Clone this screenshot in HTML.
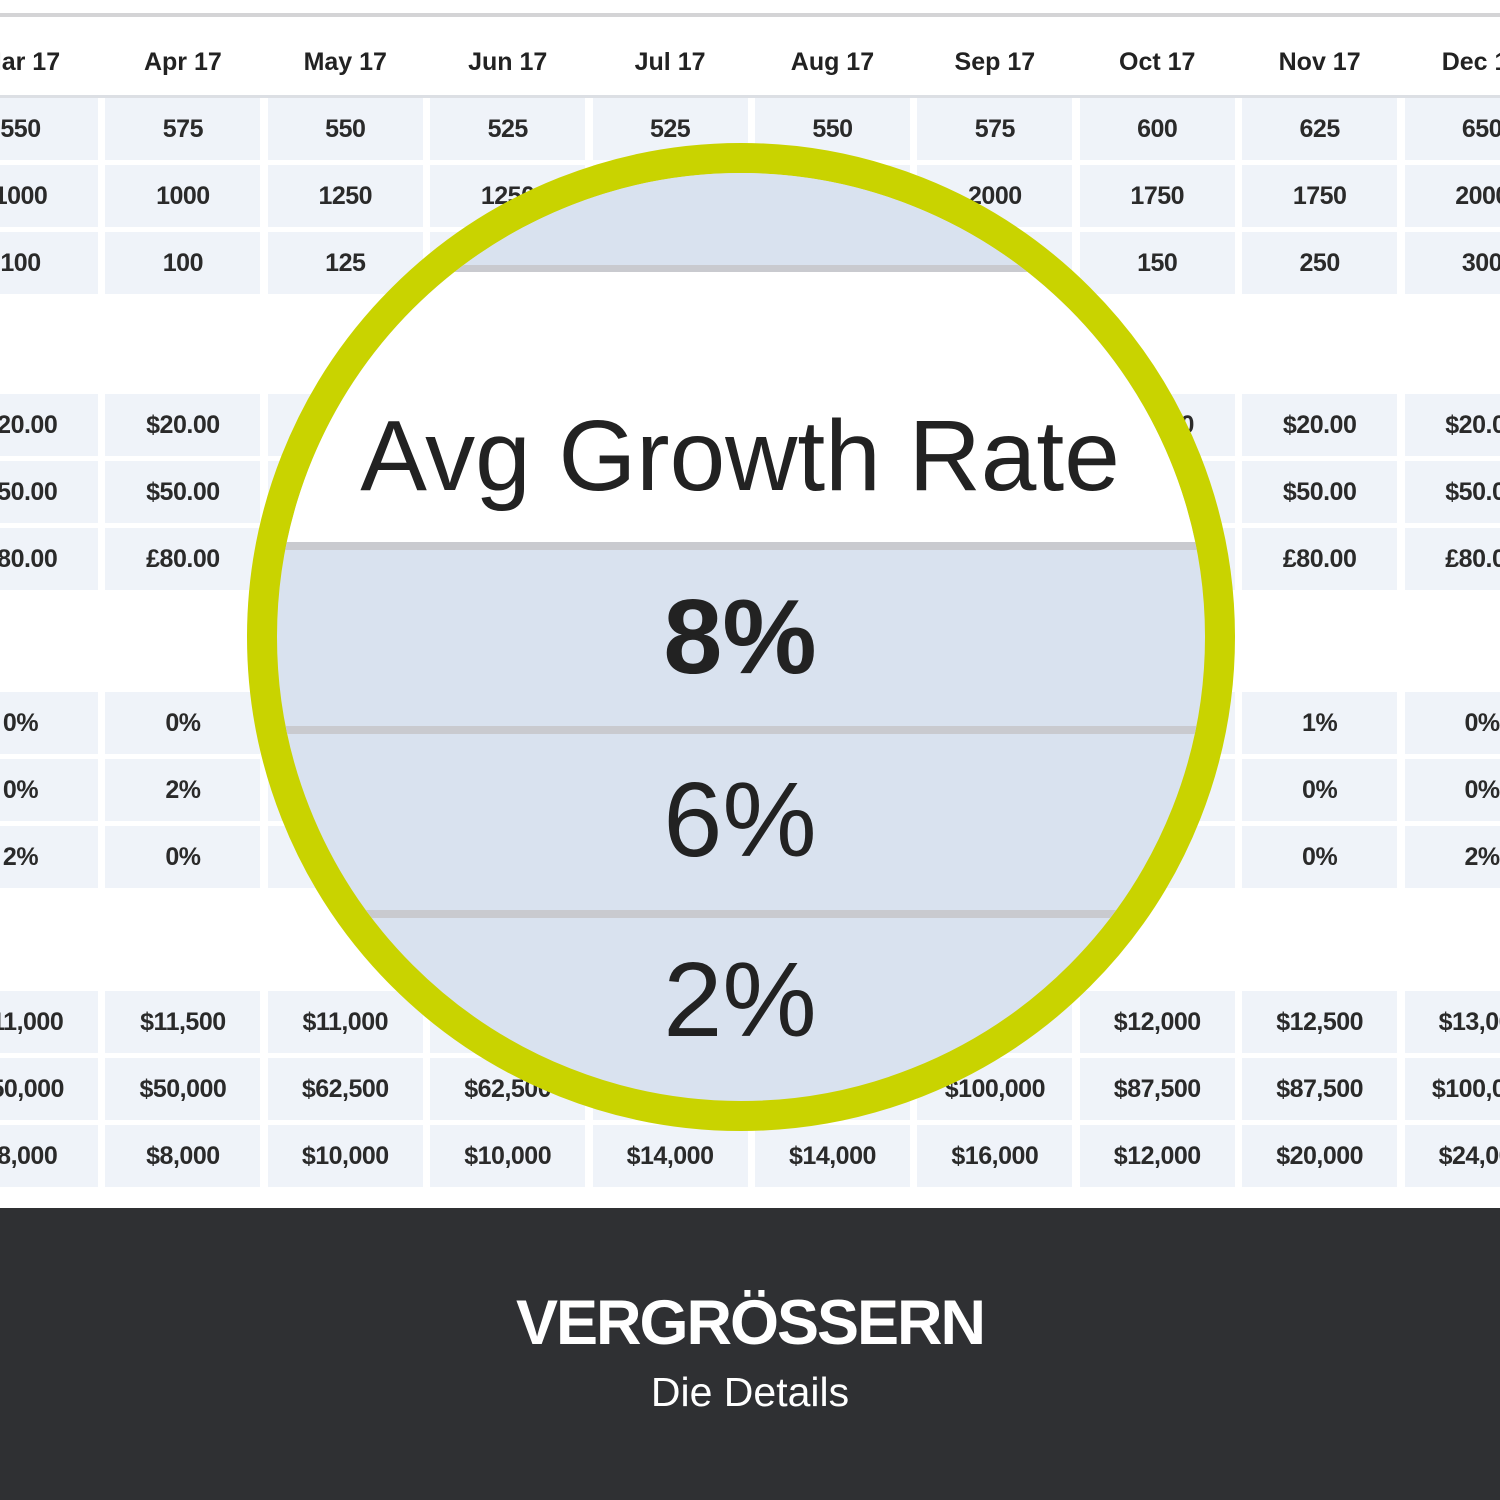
<!DOCTYPE html>
<html><head><meta charset="utf-8"><style>
*{margin:0;padding:0;box-sizing:border-box}
body{width:1500px;height:1500px;overflow:hidden;background:#fff;position:relative;font-family:"Liberation Sans",sans-serif;color:#222}
.topline{position:absolute;left:0;top:13px;width:1500px;height:4px;background:#d4d4d6}
.g{position:absolute;left:-57px;display:grid;grid-template-columns:repeat(10,155px);column-gap:7.4px;row-gap:5px;grid-auto-rows:62px}
.g div{background:#eff3f9;display:flex;align-items:center;justify-content:center;font-size:25px;font-weight:bold;color:#2a2a2a;white-space:nowrap;letter-spacing:-0.5px}
.hdr{position:absolute;left:-57px;top:40px;display:grid;grid-template-columns:repeat(10,155px);column-gap:7.4px}
.hdr div{text-align:center;font-size:25px;font-weight:bold;height:44px;line-height:44px}
.hl{position:absolute;left:0;top:95px;width:1500px;height:3px;background:#dcdfe4}
.circ{position:absolute;left:247px;top:143px;width:988px;height:988px;border-radius:50%;border:30px solid #c9d300;overflow:hidden;background:#d9e2ef}
.in{position:absolute;left:-277px;top:-173px;width:1500px;height:1500px}
.in .b{position:absolute;left:0;width:1500px}
.in .t{position:absolute;left:0;width:1480px;text-align:center;color:#222}
.band{position:absolute;left:0;top:1208px;width:1500px;height:292px;background:#2f3033;color:#fff;text-align:center}
</style></head><body>
<div class="topline"></div>
<div class="hdr"><div>Mar 17</div><div>Apr 17</div><div>May 17</div><div>Jun 17</div><div>Jul 17</div><div>Aug 17</div><div>Sep 17</div><div>Oct 17</div><div>Nov 17</div><div>Dec 17</div></div>
<div class="hl"></div>
<div class="g" style="top:98px">
<div>550</div><div>575</div><div>550</div><div>525</div><div>525</div><div>550</div><div>575</div><div>600</div><div>625</div><div>650</div>
<div>1000</div><div>1000</div><div>1250</div><div>1250</div><div>1500</div><div>1750</div><div>2000</div><div>1750</div><div>1750</div><div>2000</div>
<div>100</div><div>100</div><div>125</div><div>125</div><div>150</div><div>150</div><div>150</div><div>150</div><div>250</div><div>300</div>
</div>
<div class="g" style="top:394px">
<div>$20.00</div><div>$20.00</div><div>$20.00</div><div>$20.00</div><div>$20.00</div><div>$20.00</div><div>$20.00</div><div>$20.00</div><div>$20.00</div><div>$20.00</div>
<div>$50.00</div><div>$50.00</div><div>$50.00</div><div>$50.00</div><div>$50.00</div><div>$50.00</div><div>$50.00</div><div>$50.00</div><div>$50.00</div><div>$50.00</div>
<div>£80.00</div><div>£80.00</div><div>£80.00</div><div>£80.00</div><div>£80.00</div><div>£80.00</div><div>£80.00</div><div>£80.00</div><div>£80.00</div><div>£80.00</div>
</div>
<div class="g" style="top:692px">
<div>0%</div><div>0%</div><div>0%</div><div>0%</div><div>0%</div><div>0%</div><div>0%</div><div>0%</div><div>1%</div><div>0%</div>
<div>0%</div><div>2%</div><div>0%</div><div>0%</div><div>0%</div><div>0%</div><div>0%</div><div>0%</div><div>0%</div><div>0%</div>
<div>2%</div><div>0%</div><div>0%</div><div>0%</div><div>0%</div><div>0%</div><div>0%</div><div>0%</div><div>0%</div><div>2%</div>
</div>
<div class="g" style="top:991px">
<div>$11,000</div><div>$11,500</div><div>$11,000</div><div>$10,500</div><div>$10,500</div><div>$11,000</div><div>$11,500</div><div>$12,000</div><div>$12,500</div><div>$13,000</div>
<div>$50,000</div><div>$50,000</div><div>$62,500</div><div>$62,500</div><div>$75,000</div><div>$87,500</div><div>$100,000</div><div>$87,500</div><div>$87,500</div><div>$100,000</div>
<div>$8,000</div><div>$8,000</div><div>$10,000</div><div>$10,000</div><div>$14,000</div><div>$14,000</div><div>$16,000</div><div>$12,000</div><div>$20,000</div><div>$24,000</div>
</div>
<div class="circ"><div class="in">
<div class="b" style="top:0;height:266px;background:#d9e2ef"></div>
<div class="b" style="top:265px;height:7px;background:#c9cacf"></div>
<div class="b" style="top:272px;height:270px;background:#fff"></div>
<div class="b" style="top:542px;height:8px;background:#c9cacf"></div>
<div class="b" style="top:726px;height:8px;background:#c9cacf"></div>
<div class="b" style="top:910px;height:8px;background:#c9cacf"></div>
<div class="t" style="top:396px;font-size:100px;line-height:120px;font-weight:300">Avg Growth Rate</div>
<div class="t" style="top:572px;font-size:106px;line-height:130px;font-weight:bold">8%</div>
<div class="t" style="top:755px;font-size:106px;line-height:130px">6%</div>
<div class="t" style="top:935px;font-size:106px;line-height:130px">2%</div>
</div></div>
<div class="band">
<div style="position:absolute;left:0;width:1500px;top:74px;font-size:63px;line-height:82px;font-weight:bold;letter-spacing:-2px">VERGRÖSSERN</div>
<div style="position:absolute;left:0;width:1500px;top:158px;font-size:41px;line-height:52px">Die Details</div>
</div>
</body></html>
